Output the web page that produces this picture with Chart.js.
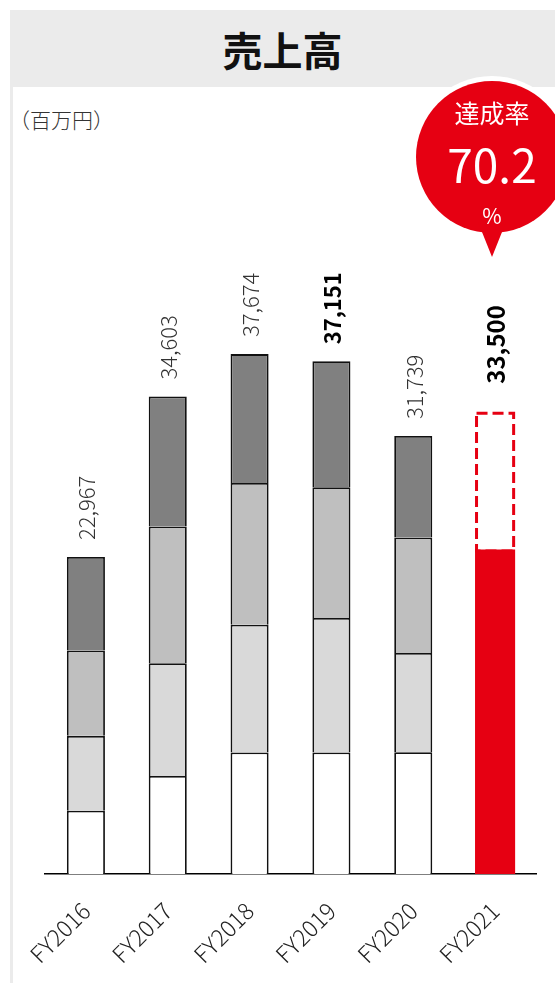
<!DOCTYPE html>
<html lang="ja">
<head>
<meta charset="utf-8">
<script src="https://cdn.jsdelivr.net/npm/chart.js@4.4.0/dist/chart.umd.min.js"></script>
<style>
  html, body { margin: 0; padding: 0; background: #fff; }
  body { width: 555px; height: 983px; position: relative; overflow: hidden; font-family: "Noto Sans CJK JP", "Noto Sans", sans-serif; }
  #band { position: absolute; left: 10px; top: 10px; width: 545px; height: 77px; background: #ebebeb; }
  #band h1 { margin: 0; font-size: 40px; font-weight: bold; color: #111; text-align: center; line-height: 79px; }
  #edge { position: absolute; left: 10px; top: 10px; width: 3px; height: 973px; background: #ebebeb; }
  #unit { position: absolute; left: 9px; top: 105px; font-size: 21px; font-weight: 300; color: #333; line-height: 28px; }
  #wrap { position: absolute; left: 0; top: 0; width: 555px; height: 983px; }
  #bubble { position: absolute; left: 416px; top: 81px; width: 152px; height: 152px; border-radius: 50%; background: #e60012; box-shadow: 0 0 0 5px #fff; }
  #tip { position: absolute; left: 478px; top: 222px; width: 0; height: 0; border-left: 14px solid transparent; border-right: 14px solid transparent; border-top: 35px solid #e60012; }
  .bt { position: absolute; left: 416px; width: 152px; text-align: center; color: #fff; line-height: 1; }
</style>
</head>
<body>
<div id="band"><h1>売上高</h1></div>
<div id="edge"></div>
<div id="unit">（百万円）</div>
<div id="wrap"><canvas id="grafico"></canvas></div>
<div id="bubble"></div>
<div id="tip"></div>
<div class="bt" style="top:100px;font-size:25px;">達成率</div>
<div class="bt" style="top:140px;font-size:46px;">70.2</div>
<div class="bt" style="top:205px;font-size:21px;">%</div>
<script>
// 年度
const categorias = ['FY2016', 'FY2017', 'FY2018', 'FY2019', 'FY2020', 'FY2021'];
// 積み上げの各区分（百万円、下から順）
const segmento1 = [4590, 7110, 8800, 8800, 8830, null];
const segmento2 = [5420, 8170, 9260, 9750, 7180, null];
const segmento3 = [6190, 9910, 10280, 9470, 8380, null];
const segmento4 = [6767, 9413, 9334, 9131, 7349, null];
// FY2021 実績（達成分）
const realizado = [null, null, null, null, null, 23517];
// 合計ラベル
const totais = [22967, 34603, 37674, 37151, 31739, 33500];
const negrito = [false, false, false, true, false, true];

const vermelho = '#e60012';
const fonte = '"Noto Sans CJK JP", "Noto Sans", sans-serif';

// 目標の点線枠
const pluginMeta = {
  id: 'meta',
  afterDatasetsDraw(chart) {
    const el = chart.getDatasetMeta(4).data[5];
    const y = chart.scales.y;
    const topo = y.getPixelForValue(totais[5]);
    const ctx = chart.ctx;
    ctx.save();
    ctx.strokeStyle = vermelho;
    ctx.lineWidth = 3;
    ctx.setLineDash([11, 5]);
    ctx.strokeRect(el.x - el.width / 2 + 1.5, topo + 1.5, el.width - 3, el.y - topo);
    ctx.restore();
  }
};

// 合計値ラベル（縦書き）
const pluginRotulos = {
  id: 'rotulos',
  afterDraw(chart) {
    const ctx = chart.ctx;
    const y = chart.scales.y;
    const x = chart.scales.x;
    totais.forEach((v, i) => {
      const ultimo = i === categorias.length - 1;
      const gap = ultimo ? 28 : 17;
      const px = x.getPixelForValue(i) + 1;
      const py = y.getPixelForValue(v) - gap;
      ctx.save();
      ctx.translate(px, py);
      ctx.rotate(-Math.PI / 2);
      ctx.font = (negrito[i] ? 'bold ' : '300 ') + (ultimo ? '24px ' : '22px ') + fonte;
      ctx.fillStyle = negrito[i] ? '#000' : '#333';
      ctx.textAlign = 'left';
      ctx.textBaseline = 'middle';
      ctx.fillText(v.toLocaleString('en-US'), 0, 0);
      ctx.restore();
    });
  }
};

const barra = (dados, cor) => ({
  data: dados,
  backgroundColor: cor,
  borderColor: '#111',
  borderWidth: 1.8,
  borderSkipped: 'start',
  barPercentage: 0.465,
  categoryPercentage: 1
});

const grafico = new Chart(document.getElementById('grafico'), {
  type: 'bar',
  data: {
    labels: categorias,
    datasets: [
      barra(segmento1, '#ffffff'),
      barra(segmento2, '#d9d9d9'),
      barra(segmento3, '#bfbfbf'),
      barra(segmento4, '#808080'),
      {
        data: realizado,
        backgroundColor: vermelho,
        borderWidth: 0,
        barPercentage: 0.49,
        categoryPercentage: 1
      }
    ]
  },
  options: {
    responsive: true,
    maintainAspectRatio: false,
    animation: false,
    layout: { padding: { left: 45, right: 19, top: 253, bottom: 0 } },
    scales: {
      x: {
        stacked: true,
        grid: { display: false },
        border: { display: true, color: '#000', width: 1.5 },
        ticks: {
          color: '#222',
          font: { family: fonte, size: 23, weight: '300' },
          minRotation: 45,
          maxRotation: 45,
          padding: 15
        },
        afterFit: s => { s.height = 109; }
      },
      y: {
        stacked: true,
        display: false,
        min: 0,
        max: 45000
      }
    },
    plugins: {
      legend: { display: false },
      tooltip: { enabled: false }
    }
  },
  plugins: [pluginMeta, pluginRotulos]
});
</script>
</body>
</html>
